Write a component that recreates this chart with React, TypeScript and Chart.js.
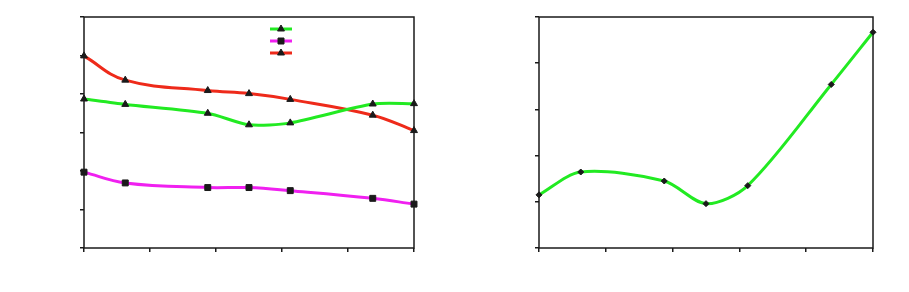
import React, { useEffect, useRef } from "react";
import { Chart, registerables } from "chart.js";
Chart.register(...registerables);

// shared x positions of the measured points (axis runs 0..5)
const xPositions = [0, 0.625, 1.875, 2.5, 3.125, 4.375, 5];
// left panel series (y axis 0..6)
const greenLeft = [3.87, 3.73, 3.5, 3.2, 3.25, 3.74, 3.75];
const magentaLeft = [1.97, 1.69, 1.57, 1.57, 1.49, 1.29, 1.14];
const redLeft = [4.99, 4.36, 4.09, 4.01, 3.86, 3.45, 3.05];
// right panel series (y axis 0..5)
const greenRight = [1.15, 1.645, 1.45, 0.96, 1.35, 3.54, 4.67];

const xMax = 5;
const leftYMax = 6;
const rightYMax = 5;

const GREEN = "#22ea22";
const MAGENTA = "#f020f0";
const RED = "#ee2a1a";
const INK = "#1a1a1a";

const toPts = (ys: number[]) => xPositions.map((x, i) => ({ x, y: ys[i] }));

const framePlugin = {
  id: "frame",
  beforeDatasetsDraw(chart: any) {
    const { ctx, chartArea: a } = chart;
    ctx.save();
    ctx.strokeStyle = INK;
    ctx.lineWidth = 1.5;
    ctx.strokeRect(a.left, a.top, a.right - a.left, a.bottom - a.top);
    ctx.restore();
  },
};

function drawMarker(ctx: CanvasRenderingContext2D, style: string, x: number, y: number) {
  ctx.beginPath();
  if (style === "rect") {
    ctx.rect(x - 3, y - 3, 6, 6);
  } else {
    const r = 4;
    ctx.moveTo(x, y - r);
    ctx.lineTo(x + r * 0.866, y + r * 0.5);
    ctx.lineTo(x - r * 0.866, y + r * 0.5);
    ctx.closePath();
  }
  ctx.fill();
  ctx.stroke();
}

const legendPlugin = {
  id: "miniLegend",
  afterDatasetsDraw(chart: any, _args: any, opts: any) {
    if (!opts || !opts.show) return;
    const { ctx } = chart;
    const x0 = opts.x0, x1 = opts.x1;
    chart.data.datasets.forEach((ds: any, i: number) => {
      const y = opts.ys[i];
      ctx.save();
      ctx.strokeStyle = ds.borderColor;
      ctx.lineWidth = 3;
      ctx.beginPath();
      ctx.moveTo(x0, y);
      ctx.lineTo(x1, y);
      ctx.stroke();
      ctx.fillStyle = INK;
      ctx.strokeStyle = INK;
      ctx.lineWidth = 1;
      drawMarker(ctx, ds.pointStyle, (x0 + x1) / 2, y);
      ctx.restore();
    });
  },
};

function axisCfg(max: number) {
  return {
    type: "linear" as const,
    min: 0,
    max,
    ticks: { display: false, stepSize: 1 },
    grid: { drawOnChartArea: false, drawTicks: true, tickLength: 4, color: INK, lineWidth: 1.5 },
    border: { display: false },
  };
}

function lineDs(data: number[], color: string, pointStyle: string, radius: number, tension: number) {
  return {
    data: toPts(data),
    borderColor: color,
    backgroundColor: INK,
    borderWidth: 3,
    pointStyle,
    pointRadius: radius,
    pointBackgroundColor: INK,
    pointBorderColor: INK,
    pointBorderWidth: 1,
    tension,
    clip: false as any,
  };
}

function Panel({ left, width, datasets, yMax, padding, legend }: any) {
  const ref = useRef<HTMLCanvasElement>(null);
  useEffect(() => {
    if (!ref.current) return;
    const chart = new Chart(ref.current, {
      type: "line",
      data: { datasets },
      options: {
        responsive: false,
        animation: false,
        devicePixelRatio: 1,
        layout: { padding },
        plugins: {
          legend: { display: false },
          tooltip: { enabled: false },
          miniLegend: legend,
        } as any,
        scales: { x: axisCfg(xMax), y: axisCfg(yMax) },
      },
      plugins: [framePlugin, legendPlugin],
    });
    return () => chart.destroy();
  }, []);
  return (
    <div style={{ position: "absolute", left, top: 0, width, height: 292 }}>
      <canvas ref={ref} width={width} height={292} style={{ display: "block" }} />
    </div>
  );
}

export default function App() {
  const leftSets = [
    lineDs(greenLeft, GREEN, "triangle", 4, 0.25),
    lineDs(magentaLeft, MAGENTA, "rect", 4.2, 0.4),
    lineDs(redLeft, RED, "triangle", 4, 0.4),
  ];
  const rightSets = [lineDs(greenRight, GREEN, "rectRot", 3, 0.3)];
  return (
    <div style={{ position: "absolute", left: 0, top: 0, width: 909, height: 292, background: "#fff" }}>
      <Panel
        left={0}
        width={450}
        datasets={leftSets}
        yMax={leftYMax}
        padding={{ left: 80, top: 17, right: 36, bottom: 40 }}
        legend={{ show: true, x0: 270, x1: 292, ys: [29, 41, 53] }}
      />
      <Panel
        left={460}
        width={449}
        datasets={rightSets}
        yMax={rightYMax}
        padding={{ left: 75, top: 17, right: 36, bottom: 40 }}
        legend={{ show: false }}
      />
    </div>
  );
}
